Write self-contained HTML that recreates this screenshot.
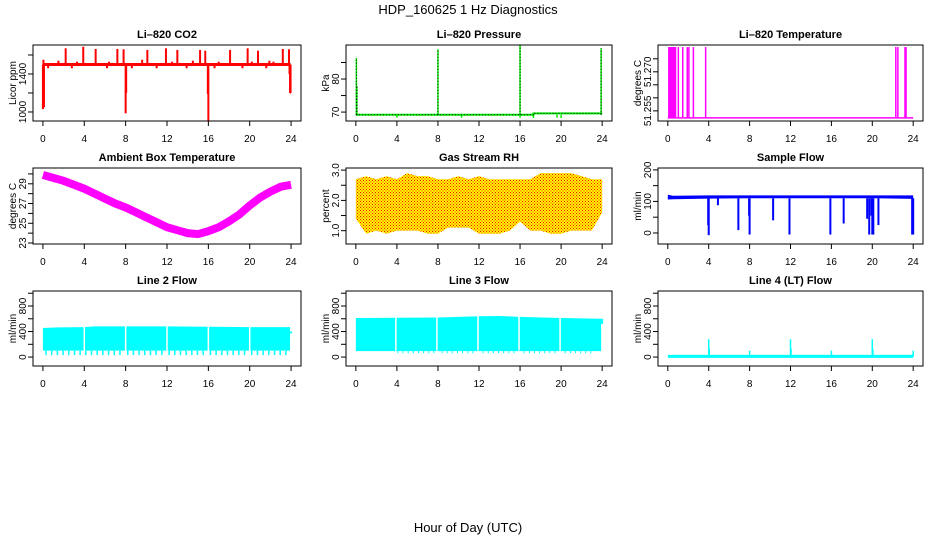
<!DOCTYPE html>
<html><head><meta charset="utf-8"><style>
html,body{margin:0;padding:0;background:#fff;width:936px;height:540px;overflow:hidden}
svg{display:block;font-family:"Liberation Sans",Arial,sans-serif}
</style></head><body>
<svg id="fig" width="936" height="540" viewBox="0 0 936 540" xmlns="http://www.w3.org/2000/svg">
<defs>
<pattern id="rhpat" width="3" height="3" patternUnits="userSpaceOnUse">
<rect width="3" height="3" fill="#ffff00"/><rect x="0" y="0" width="1" height="1" fill="#ff0000"/><rect x="1.5" y="1.5" width="1" height="1" fill="#ff0000"/>
</pattern>
</defs>
<text x="468" y="14" text-anchor="middle" font-size="13">HDP_160625  1 Hz Diagnostics</text>
<text x="468" y="532" text-anchor="middle" font-size="13">Hour of Day (UTC)</text>
</svg>
<script>
// ---- data ----
const xTicks = [0,4,8,12,16,20,24];
const co2Base = 1500;
const co2SpikeHours = [2.2,3.9,5.1,7.2,7.8,10.1,11.9,13.0,15.2,15.7,18.1,19.8,20.8,23.2,23.8,0.05,1.5,3.3,6.4,9.6,12.5,14.5,17.0,20.2,21.9,22.3,0.0,0.1,0.5,8.0,8.05,16.0,15.95,23.9,23.85,2.8,6.2,8.6,11.0,13.9,16.6,19.3,21.6];
const co2SpikeValues = [1670,1687,1663,1663,1660,1653,1670,1653,1653,1645,1653,1670,1645,1663,1660,1550,1540,1530,1530,1550,1530,1540,1530,1530,1540,1530,1030,1050,1460,986,1200,905,1190,1200,1400,1460,1460,1460,1460,1460,1460,1460,1460];
const presHours = [0,17.3,17.3,24];
const presValues = [69.2,69.2,69.6,69.6];
const presSpikeHours = [0.05,0.1,8.0,16.0,23.9,4.0,10.3,17.3,19.6,20.0,16.0];
const presSpikeValues = [86.4,77.9,89.0,90.3,89.3,68.3,68.3,68.2,68.3,68.2,68.3];
const ltBase = 51.2523;
const ltSpikeHours = [0.1,0.15,0.2,0.25,0.3,0.35,0.4,0.45,0.5,0.55,0.6,0.65,0.7,0.75,1.03,1.46,1.9,2.06,2.5,3.7,22.3,22.5,23.2,23.3];
const ltSpikeValue = 51.2795;
const ambHours = [0,1,2,3,4,5,6,7,8,9,10,11,12,13,14,15,16,17,18,19,20,21,22,23,24];
const ambValues = [29.9,29.6,29.3,28.9,28.5,28.0,27.5,27.0,26.6,26.1,25.6,25.1,24.6,24.3,24.0,23.9,24.2,24.6,25.2,25.9,26.8,27.6,28.2,28.7,28.9];
const rhHours = [0,1,2,3,4,5,6,7,8,9,10,11,12,13,14,15,16,17,18,19,20,21,22,23,24];
const rhMax = [2.7,2.8,2.7,2.8,2.7,2.9,2.8,2.8,2.7,2.7,2.8,2.7,2.8,2.7,2.7,2.7,2.7,2.7,2.9,2.9,2.9,2.9,2.8,2.7,2.7];
const rhMin = [1.4,0.9,1.0,0.9,1.0,1.0,1.0,0.9,0.9,1.1,1.1,1.1,0.9,0.9,0.9,1.0,1.3,1.0,1.0,0.9,0.9,1.0,1.0,1.0,1.6];
const sfHours = [0,0.5,4,8,12,16,20,24];
const sfTop = [121,118,119,119,119,119,119,119];
const sfBottom = [106,107,109,110,110,110,110,108];
const sfSpikeHours = [4.0,3.95,4.9,6.9,8.0,7.95,10.3,11.9,15.9,17.2,19.5,19.7,19.9,20.0,20.1,20.6,23.9,24.0];
const sfSpikeValues = [-7,25,88,9,-5,55,40,-5,-5,30,45,-5,55,-5,-5,25,-5,-5];
const l2Hours = [0,1.5,4,5,8,12,16,20,23.9];
const l2Top = [455,465,470,480,480,480,475,470,470];
const l2Bottom = [100,100,100,100,100,100,100,100,100];
const l2EndValue = 400;
const l2TeethHours = [0.3,0.85,1.4,1.95,2.5,3.05,3.6,4.15,4.7,5.25,5.8,6.35,6.9,7.45,8.2,8.75,9.3,9.85,10.4,10.95,11.5,12.2,12.75,13.3,13.85,14.4,14.95,15.5,16.2,16.75,17.3,17.85,18.4,18.95,19.5,20.2,20.75,21.3,21.85,22.4,22.95,23.5];
const l2TeethValue = 30;
const l3Hours = [0,4,8,12,14,16,20,23.9];
const l3Top = [612,615,620,640,643,630,612,600];
const l3Bottom = [94,94,94,94,94,94,94,94];
const l3EndValue = 520;
const l3TeethHours = [4.1,4.6,5.1,5.6,6.1,6.6,7.1,7.6,8.4,8.9,9.4,9.9,10.4,10.9,11.4,12.4,12.9,13.4,13.9,14.4,14.9,15.4,16.4,16.9,17.4,17.9,18.4,18.9,19.4,20.4,20.9,21.4,21.9,22.4,22.9];
const l3TeethValue = 60;
const gapHours = [4,8,12,16,20];
const l4Base = 10;
const l4SpikeHours = [4.0,4.05,8.0,12.0,12.05,16.0,20.0,20.05,24.0];
const l4SpikeValues = [280,130,100,280,130,100,280,130,100];

// ---- layout ----
const NS = 'http://www.w3.org/2000/svg';
const svg = document.getElementById('fig');
const cols = [[33,301],[346,612],[658,923]];
const rows = [[45,121],[168,244],[291,366]];
function mk(parent, tag, attrs, name) {
  const e = document.createElementNS(NS, tag);
  for (const k in attrs) e.setAttribute(k, attrs[k]);
  
  
  parent.appendChild(e);
  return e;
}
function panel(ci, ri, key, title, ylab, ylo, yhi, ticks, labels) {
  const [L,R] = cols[ci], [T,B] = rows[ri];
  const g = mk(svg, 'g', {}, key + '-panel');
  const pad = (R-L)*0.04/1.08;
  const x = h => L + pad + (R-L-2*pad)*h/24;
  const y = v => B - (v-ylo)/(yhi-ylo)*(B-T);
  const plot = mk(g, 'g', {}, key + '-plot-area');
  mk(g, 'text', {x:(L+R)/2, y:T-7, 'text-anchor':'middle', 'font-size':11, 'font-weight':'bold'}, key + '-title').textContent = title;
  const yl = mk(g, 'text', {x:L-17, y:(T+B)/2, 'text-anchor':'middle', 'font-size':10, transform:`rotate(-90 ${L-17} ${(T+B)/2})`}, key + '-y-axis-title');
  yl.textContent = ylab;
  mk(g, 'rect', {x:L, y:T, width:R-L, height:B-T, fill:'none', stroke:'#000', 'stroke-width':1}, key + '-frame');
  xTicks.forEach(t => {
    mk(g, 'line', {x1:x(t), x2:x(t), y1:B, y2:B+5, stroke:'#000'}, key + '-x-tick');
    mk(g, 'text', {x:x(t), y:B+21, 'text-anchor':'middle', 'font-size':10}, key + '-x-tick-label').textContent = t;
  });
  mk(g, 'line', {x1:x(0), x2:x(24), y1:B, y2:B, stroke:'#000'}, key + '-x-axis');
  ticks.forEach(t => {
    mk(g, 'line', {x1:L-5, x2:L, y1:y(t), y2:y(t), stroke:'#000'}, key + '-y-tick');
  });
  labels.forEach(t => {
    const lx = L-7, ly = y(+t);
    mk(g, 'text', {x:lx, y:ly, 'text-anchor':'middle', 'font-size':10, transform:`rotate(-90 ${lx} ${ly})`}, key + '-y-tick-label').textContent = t;
  });
  return {plot, x, y};
}
function vline(p, h, v1, v2, color, w, name) {
  mk(p.plot, 'line', {x1:p.x(h), x2:p.x(h), y1:p.y(v1), y2:p.y(v2), stroke:color, 'stroke-width':w}, name);
}
function poly(p, hs, vs, color, w, name) {
  mk(p.plot, 'polyline', {points: hs.map((h,i)=>p.x(h)+','+p.y(vs[i])).join(' '), fill:'none', stroke:color, 'stroke-width':w}, name);
}
function band(p, hs, top, bot, fill, name) {
  const pts = hs.map((h,i)=>p.x(h)+','+p.y(top[i])).concat(hs.slice().reverse().map((h,i)=>p.x(h)+','+p.y(bot[hs.length-1-i])));
  mk(p.plot, 'polygon', {points: pts.join(' '), fill: fill, stroke:'none'}, name);
}

// CO2
let p = panel(0,0,'co2','Li\u2013820 CO2','Licor ppm',905,1705,[1000,1200,1400,1600],['1000','1400']);
poly(p,[0,23.95],[co2Base,co2Base],'#ff0000',3,'co2-line');
co2SpikeHours.forEach((h,i)=>vline(p,h,co2Base,co2SpikeValues[i],'#ff0000',2,'co2-spike'));
vline(p,23.95,co2Base,1200,'#ff0000',2,'co2-end');
poly(p,[23.95,24],[1200,1200],'#ff0000',3,'co2-end-line');

// Pressure
p = panel(1,0,'pres','Li\u2013820 Pressure','kPa',67.3,90.3,[70,75,80,85],['70','80']);
poly(p,presHours,presValues,'#00ee00',2,'pres-line');
presSpikeHours.forEach((h,i)=>vline(p,h,presValues[0],presSpikeValues[i],'#00ee00',1.5,'pres-spike'));
presSpikeHours.slice(0,5).forEach((h,i)=>mk(p.plot,'line',{x1:p.x(h),x2:p.x(h),y1:p.y(presValues[0]),y2:p.y(presSpikeValues[i]),stroke:'#000','stroke-width':1,'stroke-dasharray':'1,2'},'pres-spike-dots'));
mk(p.plot,'polyline',{points:presHours.map((h,i)=>p.x(h)+','+p.y(presValues[i])).join(' '),fill:'none',stroke:'#000','stroke-width':1,'stroke-dasharray':'1,2'},'pres-line-dots');

// Li temp
p = panel(2,0,'ltemp','Li\u2013820 Temperature','degrees C',51.2511,51.2803,[51.255,51.260,51.265,51.270,51.275],['51.255','51.270']);
poly(p,[0,24],[ltBase,ltBase],'#ff00ff',1.5,'ltemp-line');
ltSpikeHours.forEach(h=>vline(p,h,ltBase,ltSpikeValue,'#ff00ff',1.5,'ltemp-spike'));

// Ambient
p = panel(0,1,'amb','Ambient Box Temperature','degrees C',22.9,30.6,[23,24,25,26,27,28,29,30],['23','25','27','29']);
poly(p,ambHours,ambValues,'#ff00ff',8,'amb-line');

// RH
p = panel(1,1,'rh','Gas Stream RH','percent',0.56,3.07,[1.0,1.5,2.0,2.5,3.0],['1.0','2.0','3.0']);
band(p,rhHours,rhMax,rhMin,'url(#rhpat)','rh-band');

// Sample flow
p = panel(2,1,'sf','Sample Flow','ml/min',-35,206,[0,50,100,150,200],['0','100','200']);
band(p,sfHours,sfTop,sfBottom,'#0000ff','sf-band');
sfSpikeHours.forEach((h,i)=>vline(p,h,110,sfSpikeValues[i],'#0000ff',2,'sf-spike'));

// Line 2
p = panel(0,2,'l2','Line 2 Flow','ml/min',-140,1035,[0,200,400,600,800,1000],['0','400','800']);
band(p,l2Hours,l2Top,l2Bottom,'#00ffff','l2-band');
l2TeethHours.forEach(h=>vline(p,h,100,l2TeethValue,'#00ffff',1.5,'l2-tooth'));
gapHours.forEach(h=>vline(p,h,1000,50,'#ffffff',1.5,'l2-gap'));
vline(p,24,l2EndValue,l2EndValue-30,'#00ffff',2,'l2-end');

// Line 3
p = panel(1,2,'l3','Line 3 Flow','ml/min',-140,1035,[0,200,400,600,800,1000],['0','400','800']);
band(p,l3Hours,l3Top,l3Bottom,'#00ffff','l3-band');
l3TeethHours.forEach(h=>vline(p,h,94,l3TeethValue,'#00ffff',1,'l3-tooth'));
gapHours.forEach(h=>vline(p,h-0.1,1000,100,'#ffffff',1.5,'l3-gap'));
vline(p,24,600,l3EndValue,'#00ffff',2,'l3-end');

// Line 4
p = panel(2,2,'l4','Line 4 (LT) Flow','ml/min',-140,1035,[0,200,400,600,800,1000],['0','400','800']);
poly(p,[0,24],[l4Base,l4Base],'#00ffff',3,'l4-line');
l4SpikeHours.forEach((h,i)=>vline(p,h,l4Base,l4SpikeValues[i],'#00ffff',1.5,'l4-spike'));
</script>
</body></html>
